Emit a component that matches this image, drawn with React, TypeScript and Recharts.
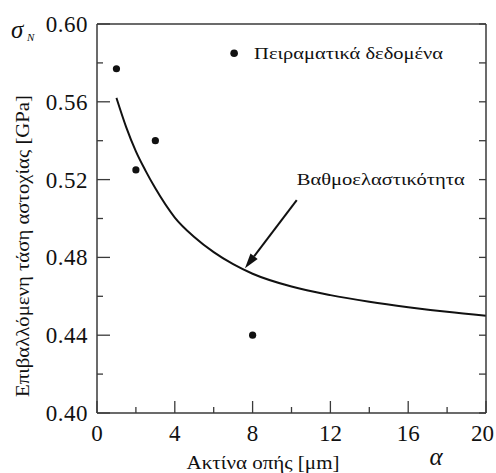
import React from "react"
import {
  ComposedChart,
  Line,
  Scatter,
  XAxis,
  YAxis,
  ReferenceLine,
  ReferenceDot,
} from "recharts"

// gradient elasticity curve
const curveX = [1, 1.5, 2, 2.5, 3, 4, 5, 6, 7, 8, 10, 12, 14, 16, 18, 20]
const curveY = [
  0.562, 0.547, 0.5345, 0.5245, 0.5155, 0.5005, 0.4905, 0.4827, 0.4765, 0.4716,
  0.465, 0.4606, 0.4572, 0.4544, 0.452, 0.45,
]

// experimental points
const expX = [1, 2, 3, 8]
const expY = [0.577, 0.525, 0.54, 0.44]

const xTicks = [0, 2, 4, 6, 8, 10, 12, 14, 16, 18, 20]
const yTicks = [0.4, 0.42, 0.44, 0.46, 0.48, 0.5, 0.52, 0.54, 0.56, 0.58, 0.6]

// annotation anchors (data coords)
const legendAt = { x: 7.05, y: 0.585 }
const arrowFrom = { x: 10.27, y: 0.5095 }
const arrowTo = { x: 7.61, y: 0.4744 }

const curveData = curveX.map((x, i) => ({ x, y: curveY[i] }))
const expData = expX.map((x, i) => ({ x, y: expY[i] }))

const ink = "#111"
const frame = "#3a3a3a"
const font = "'Liberation Serif', 'DejaVu Serif', serif"
const txt = { fontFamily: font }

const BottomTick = ({ x, y, payload }: any) => {
  const v = payload.value
  const major = v % 4 === 0
  const last = v === 20
  return (
    <g>
      <line x1={x} x2={x} y1={y} y2={y - (major ? 12 : 6)} stroke={frame} strokeWidth={1.3} />
      {major && (
        <text
          x={last ? x + 8 : x}
          y={y + 28}
          textAnchor={last ? "end" : "middle"}
          style={txt}
          fontSize={23}
          fill={ink}
        >
          {v}
        </text>
      )}
    </g>
  )
}

const TopTick = ({ x, y }: any) => (
  <line x1={x} x2={x} y1={y} y2={y + 7} stroke={frame} strokeWidth={1.3} />
)

const LeftTick = ({ x, y, payload }: any) => {
  const v = payload.value
  const major = Math.round(v * 100) % 4 === 0
  return (
    <g>
      <line x1={x} x2={x + (major ? 13 : 6)} y1={y} y2={y} stroke={frame} strokeWidth={1.3} />
      {major && (
        <text x={x - 9} y={y + 8} textAnchor="end" style={txt} fontSize={23} letterSpacing={0.5} fill={ink}>
          {v.toFixed(2)}
        </text>
      )}
    </g>
  )
}

const RightTick = ({ x, y }: any) => (
  <line x1={x} x2={x - 7} y1={y} y2={y} stroke={frame} strokeWidth={1.3} />
)

const Arrow = (p: any) => {
  const { x1, y1, x2, y2 } = p
  const dx = x2 - x1
  const dy = y2 - y1
  const len = Math.sqrt(dx * dx + dy * dy)
  const ux = dx / len
  const uy = dy / len
  const hl = 15
  const hw = 4.5
  const bx = x2 - ux * hl
  const by = y2 - uy * hl
  return (
    <g>
      <line x1={x1} y1={y1} x2={bx} y2={by} stroke={ink} strokeWidth={2} />
      <polygon
        points={`${x2},${y2} ${bx - uy * hw},${by + ux * hw} ${bx + uy * hw},${by - ux * hw}`}
        fill={ink}
      />
      <text x={x1} y={y1 - 15} style={txt} fontSize={17} fill={ink} textLength={168} lengthAdjust="spacingAndGlyphs">
        Βαθμοελαστικότητα
      </text>
    </g>
  )
}

const LegendMark = (p: any) => (
  <g>
    <circle cx={p.cx} cy={p.cy} r={3.8} fill={ink} />
    <text x={p.cx + 20} y={p.cy + 6} style={txt} fontSize={17} fill={ink} textLength={189} lengthAdjust="spacingAndGlyphs">
      Πειραματικά δεδομένα
    </text>
  </g>
)

const Dot = (p: any) => <circle cx={p.cx} cy={p.cy} r={3.6} fill={ink} />

export default function App() {
  return (
    <div style={{ position: "absolute", left: 0, top: 0, width: 496, height: 473, background: "#fff" }}>
      <ComposedChart width={496} height={473} margin={{ top: 14, right: 0, bottom: 0, left: 0 }}>
        <XAxis
          xAxisId="b"
          type="number"
          dataKey="x"
          domain={[0, 20]}
          ticks={xTicks}
          interval={0}
          height={60}
          tickSize={0}
          tickMargin={0}
          tickLine={false}
          axisLine={{ stroke: frame, strokeWidth: 1.5 }}
          tick={<BottomTick />}
          allowDataOverflow
        />
        <XAxis
          xAxisId="t"
          type="number"
          orientation="top"
          domain={[0, 20]}
          ticks={xTicks}
          interval={0}
          height={10}
          tickSize={0}
          tickMargin={0}
          tickLine={false}
          axisLine={{ stroke: frame, strokeWidth: 1.5 }}
          tick={<TopTick />}
          allowDataOverflow
        />
        <YAxis
          yAxisId="l"
          type="number"
          dataKey="y"
          domain={[0.4, 0.6]}
          ticks={yTicks}
          interval={0}
          width={97}
          tickSize={0}
          tickMargin={0}
          tickLine={false}
          axisLine={{ stroke: frame, strokeWidth: 1.5 }}
          tick={<LeftTick />}
          allowDataOverflow
        />
        <YAxis
          yAxisId="r"
          type="number"
          orientation="right"
          domain={[0.4, 0.6]}
          ticks={yTicks}
          interval={0}
          width={10}
          tickSize={0}
          tickMargin={0}
          tickLine={false}
          axisLine={{ stroke: frame, strokeWidth: 1.5 }}
          tick={<RightTick />}
          allowDataOverflow
        />
        <Line
          xAxisId="b"
          yAxisId="l"
          data={curveData}
          dataKey="y"
          type="monotone"
          stroke={ink}
          strokeWidth={2}
          dot={false}
          isAnimationActive={false}
        />
        <Scatter
          xAxisId="b"
          yAxisId="l"
          data={expData}
          dataKey="y"
          shape={Dot}
          isAnimationActive={false}
        />
        <ReferenceDot
          xAxisId="b"
          yAxisId="l"
          x={legendAt.x}
          y={legendAt.y}
          shape={LegendMark}
          ifOverflow="visible"
        />
        <ReferenceLine
          xAxisId="b"
          yAxisId="l"
          segment={[arrowFrom, arrowTo]}
          shape={Arrow}
          ifOverflow="visible"
        />
      </ComposedChart>
      <svg
        width={496}
        height={473}
        style={{ position: "absolute", left: 0, top: 0, pointerEvents: "none" }}
      >
        <text x={11} y={38} style={txt} fontStyle="italic" fontSize={25} fill={ink}>
          σ
        </text>
        <text x={27} y={41} style={txt} fontStyle="italic" fontSize={11} fill={ink}>
          N
        </text>
        <text
          x={0}
          y={0}
          transform="translate(29 246) rotate(-90)"
          textAnchor="middle"
          style={txt}
          fontSize={18}
          fill={ink}
          textLength={302}
          lengthAdjust="spacingAndGlyphs"
        >
          Επιβαλλόμενη τάση αστοχίας [GPa]
        </text>
        <text x={263} y={469} textAnchor="middle" style={txt} fontSize={18} fill={ink} textLength={153} lengthAdjust="spacingAndGlyphs">
          Ακτίνα οπής [μm]
        </text>
        <text x={436} y={465} textAnchor="middle" style={txt} fontStyle="italic" fontSize={25} fill={ink}>
          α
        </text>
      </svg>
    </div>
  )
}
